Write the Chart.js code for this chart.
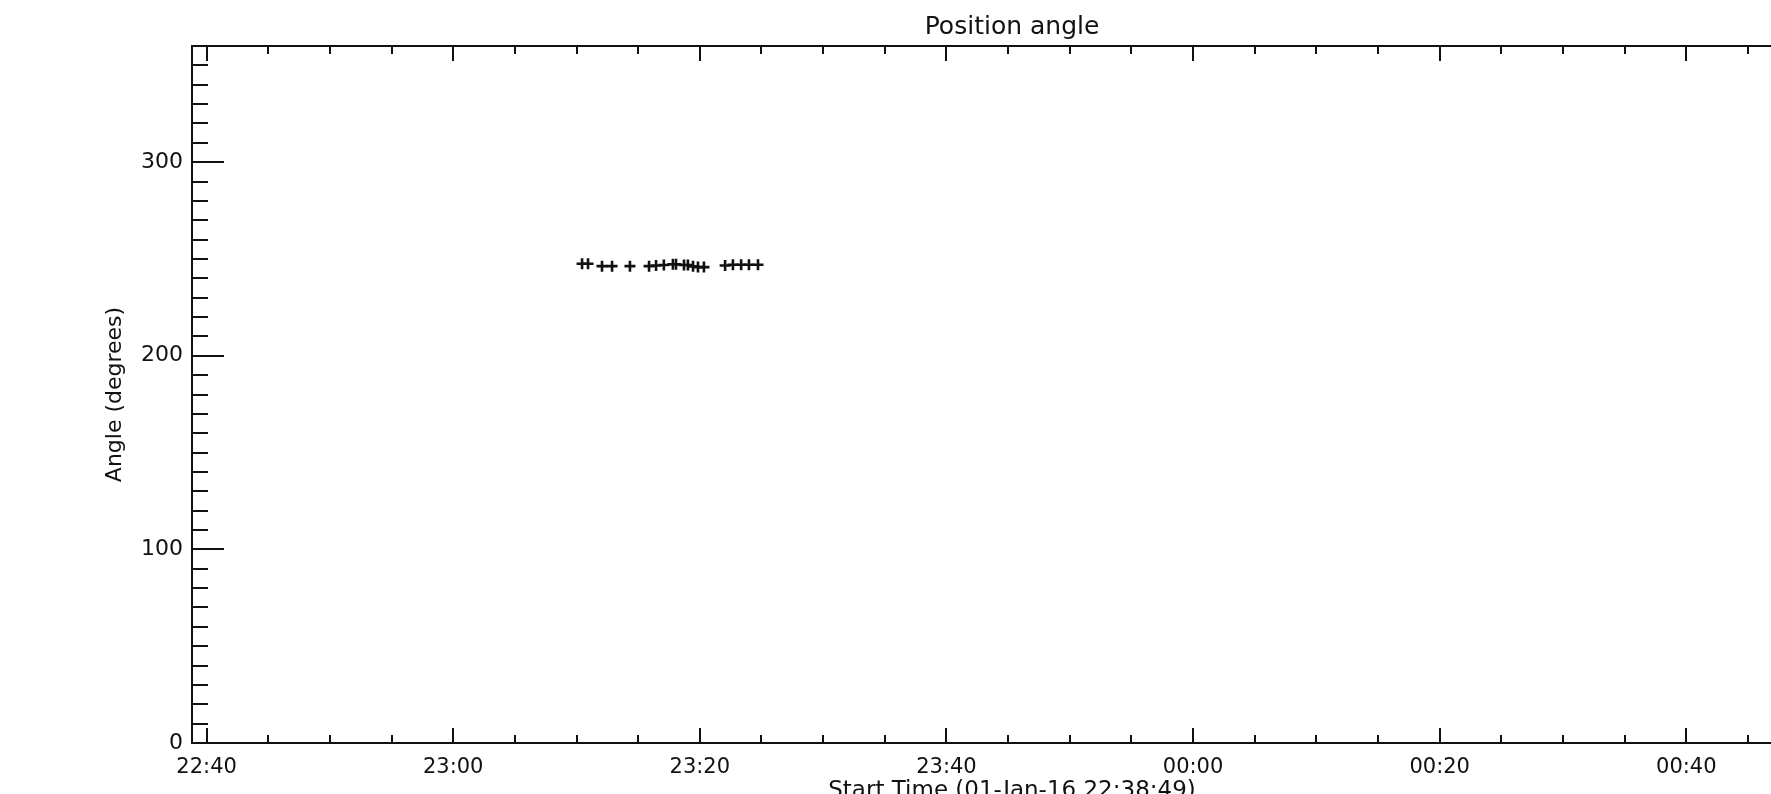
<!DOCTYPE html>
<html>
<head>
<meta charset="utf-8">
<title>Position angle</title>
<script src="https://cdn.jsdelivr.net/npm/chart.js@4.4.1/dist/chart.umd.min.js"></script>
<style>
  html, body { margin: 0; padding: 0; background: #fff; overflow: hidden; }
  #wrap { width: 1771px; height: 794px; overflow: hidden; }
</style>
</head>
<body>
<div id="wrap"><canvas id="chart" width="2024" height="830"></canvas></div>
<script>
// x values are minutes after 22:00 on 01-Jan-16 (times after midnight roll over)
var startLabel = '01-Jan-16 22:38:49';
var xStart = '22:38:49';
var xEnd = '00:51:49';

var obsTimes = [
	'23:10:27', '23:10:56', '23:12:04', '23:12:53', '23:14:20',
	'23:15:53', '23:16:27', '23:17:05', '23:17:49', '23:18:04',
	'23:18:43', '23:19:02', '23:19:27', '23:19:51', '23:20:20',
	'23:22:03', '23:22:41', '23:23:21', '23:23:59', '23:24:43'
];
var angles = [
	247.5, 247.5, 246.3, 246.3, 246.3,
	246.3, 246.6, 246.9, 247.3, 247.3,
	246.9, 246.9, 246.2, 245.8, 245.8,
	246.6, 247, 247, 247, 247
];

var xMajorTicks = ['22:40', '23:00', '23:20', '23:40', '00:00', '00:20', '00:40'];
var yMajorTicks = [0, 100, 200, 300];
var yRange = [0, 360];

var FONT = 'DejaVu Sans';
var INK = '#111';

function toMinutes(s) {
	var p = s.split(':');
	var h = parseInt(p[0], 10);
	if (h < 12) h += 24;
	return (h - 22) * 60 + parseInt(p[1], 10) + (p[2] ? parseInt(p[2], 10) / 60 : 0);
}

function fmtMinutes(v) {
	var h = (22 + Math.floor(v / 60)) % 24;
	var m = Math.round(v % 60);
	return (h < 10 ? '0' : '') + h + ':' + (m < 10 ? '0' : '') + m;
}

var points = [];
for (var i = 0; i < obsTimes.length; i++) {
	points.push({ x: toMinutes(obsTimes[i]), y: angles[i] });
}

// IDL style frame: inward ticks on all four sides
var idlFrame = {
	id: 'idlFrame',
	beforeDatasetsDraw: function(chart) {
		var ctx = chart.ctx;
		var a = chart.chartArea;
		var xs = chart.scales.x;
		var ys = chart.scales.y;
		ctx.save();
		ctx.strokeStyle = INK;
		ctx.lineWidth = 2;
		ctx.beginPath();
		ctx.moveTo(a.left, a.top);
		ctx.lineTo(a.right, a.top);
		ctx.lineTo(a.right, a.bottom);
		xs.ticks.forEach(function(t) {
			var px = Math.round(xs.getPixelForValue(t.value));
			var len = t.major ? 15 : 8;
			ctx.moveTo(px, a.bottom);
			ctx.lineTo(px, a.bottom - len);
			ctx.moveTo(px, a.top);
			ctx.lineTo(px, a.top + len);
		});
		ys.ticks.forEach(function(t) {
			var py = Math.round(ys.getPixelForValue(t.value));
			var len = t.major ? 32 : 16;
			ctx.moveTo(a.left, py);
			ctx.lineTo(a.left + len, py);
			ctx.moveTo(a.right, py);
			ctx.lineTo(a.right - len, py);
		});
		ctx.stroke();
		ctx.restore();
	}
};

var ctx = document.getElementById('chart');
var myChart = new Chart(ctx, {
	type: 'scatter',
	data: {
		datasets: [{
			label: 'Position angle',
			data: points,
			pointStyle: 'cross',
			pointRadius: 5.5,
			pointBorderWidth: 2.6,
			borderColor: INK,
			backgroundColor: INK
		}]
	},
	options: {
		responsive: false,
		devicePixelRatio: 1,
		animation: false,
		layout: { padding: { left: 0, right: 192, top: 0, bottom: 0 } },
		plugins: {
			legend: { display: false },
			tooltip: { enabled: false },
			title: {
				display: true,
				fullSize: false,
				text: 'Position angle',
				color: INK,
				font: { family: FONT, size: 25, weight: 'normal' },
				padding: { top: 12, bottom: 4 }
			}
		},
		scales: {
			x: {
				type: 'linear',
				min: toMinutes(xStart),
				max: toMinutes(xEnd),
				grid: { display: false, drawTicks: false },
				border: { display: true, color: INK, width: 2 },
				afterBuildTicks: function(scale) {
					var ticks = [];
					for (var v = Math.ceil(scale.min / 5) * 5; v <= scale.max; v += 5) {
						ticks.push({ value: v, major: xMajorTicks.indexOf(fmtMinutes(v)) >= 0 });
					}
					scale.ticks = ticks;
				},
				afterFit: function(scale) { scale.height = 87; },
				ticks: {
					autoSkip: false,
					maxRotation: 0,
					padding: 12,
					color: INK,
					font: { family: FONT, size: 21 },
					callback: function(value) {
						var s = fmtMinutes(value);
						return xMajorTicks.indexOf(s) >= 0 ? s : '';
					}
				},
				title: {
					display: true,
					text: 'Start Time (' + startLabel + ')',
					color: INK,
					font: { family: FONT, size: 23 },
					padding: { top: 0, bottom: 25 }
				}
			},
			y: {
				min: yRange[0],
				max: yRange[1],
				grid: { display: false, drawTicks: false },
				border: { display: true, color: INK, width: 2 },
				afterBuildTicks: function(scale) {
					var ticks = [];
					for (var v = yRange[0]; v <= yRange[1]; v += 10) {
						ticks.push({ value: v, major: yMajorTicks.indexOf(v) >= 0 });
					}
					scale.ticks = ticks;
				},
				afterFit: function(scale) { scale.width = 192; },
				ticks: {
					autoSkip: false,
					padding: 9,
					color: INK,
					font: { family: FONT, size: 22 },
					callback: function(value) {
						return yMajorTicks.indexOf(value) >= 0 ? String(value) : '';
					}
				},
				title: {
					display: true,
					text: 'Angle (degrees)',
					color: INK,
					font: { family: FONT, size: 22 },
					padding: { top: 102, bottom: 0 }
				}
			}
		}
	},
	plugins: [idlFrame]
});
</script>
</body>
</html>
